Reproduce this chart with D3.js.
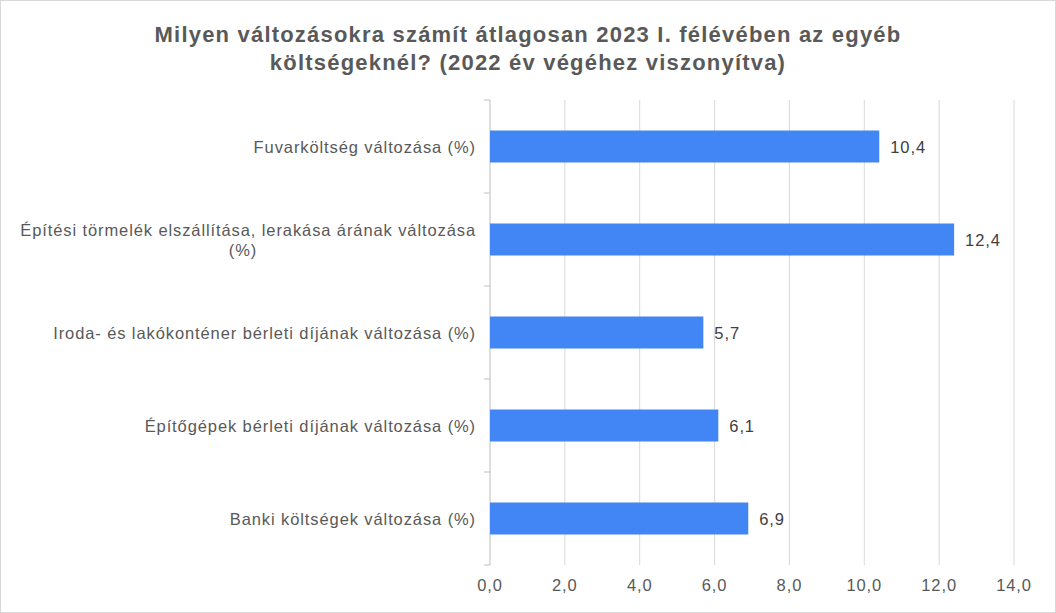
<!DOCTYPE html><html><head><meta charset="utf-8"><script src="https://cdn.jsdelivr.net/npm/d3@7"></script>
<style>body{margin:0;background:#fff}text{font-family:Arial,"Liberation Sans",sans-serif}</style></head><body>
<svg id="c" width="1056" height="613"></svg>
<script>
const categories=["Fuvarköltség változása (%)","Építési törmelék elszállítása, lerakása árának változása (%)","Iroda- és lakókonténer bérleti díjának változása (%)","Építőgépek bérleti díjának változása (%)","Banki költségek változása (%)"];
const catLines=[["Fuvarköltség változása (%)"],["Építési törmelék elszállítása, lerakása árának változása","(%)"],["Iroda- és lakókonténer bérleti díjának változása (%)"],["Építőgépek bérleti díjának változása (%)"],["Banki költségek változása (%)"]];
const values=[10.4,12.4,5.7,6.1,6.9];
const ticks=[0,2,4,6,8,10,12,14];
const svg=d3.select("#c");
svg.append("rect").attr("x",0.5).attr("y",0.5).attr("width",1055).attr("height",612).attr("fill","#fff").attr("stroke","#d9d9d9");
const x=d3.scaleLinear().domain([0,14]).range([490,1014]);
const y=d3.scaleBand().domain(categories).range([100,565]);
const T=svg.append("g").attr("font-size",22).attr("font-weight","bold").attr("fill","#595959").attr("text-anchor","middle").attr("letter-spacing",1.2);
T.append("text").attr("x",528).attr("y",42).text("Milyen változásokra számít átlagosan 2023 I. félévében az egyéb");
T.append("text").attr("x",528).attr("y",70).text("költségeknél? (2022 év végéhez viszonyítva)");
svg.selectAll(".g").data(ticks.slice(1)).enter().append("line").attr("x1",d=>x(d)).attr("x2",d=>x(d)).attr("y1",100).attr("y2",565).attr("stroke","#d9d9d9");
svg.append("line").attr("x1",x(0)).attr("x2",x(0)).attr("y1",100).attr("y2",565).attr("stroke","#bfbfbf");
const bounds=[100,...categories.map(c=>y(c)+y.bandwidth())];
svg.selectAll(".t").data(bounds).enter().append("line").attr("x1",484).attr("x2",490).attr("y1",d=>d).attr("y2",d=>d).attr("stroke","#bfbfbf");
const fs=16.5, ls=0.9;
svg.selectAll(".xl").data(ticks).enter().append("text").attr("x",d=>x(d)).attr("y",591).attr("text-anchor","middle").attr("font-size",fs).attr("letter-spacing",ls).attr("fill","#595959").text(d=>d.toFixed(1).replace(".",","));
const bh=32;
svg.selectAll(".b").data(values).enter().append("rect").attr("x",x(0)).attr("y",(d,i)=>y(categories[i])+y.bandwidth()/2-bh/2).attr("width",d=>x(d)-x(0)).attr("height",bh).attr("fill","#4285f4");
svg.selectAll(".v").data(values).enter().append("text").attr("x",d=>x(d)+11).attr("y",(d,i)=>y(categories[i])+y.bandwidth()/2+6).attr("font-size",fs).attr("letter-spacing",ls).attr("fill","#404040").text(d=>d.toFixed(1).replace(".",","));
catLines.forEach((ls2,i)=>{const cy=y(categories[i])+y.bandwidth()/2;ls2.forEach((l,j)=>{svg.append("text").attr("x",ls2.length>1&&j>0?243:476).attr("y",cy+6+(j-(ls2.length-1)/2)*20).attr("text-anchor",ls2.length>1&&j>0?"middle":"end").attr("font-size",fs).attr("letter-spacing",ls).attr("fill","#595959").text(l);});});
</script></body></html>
